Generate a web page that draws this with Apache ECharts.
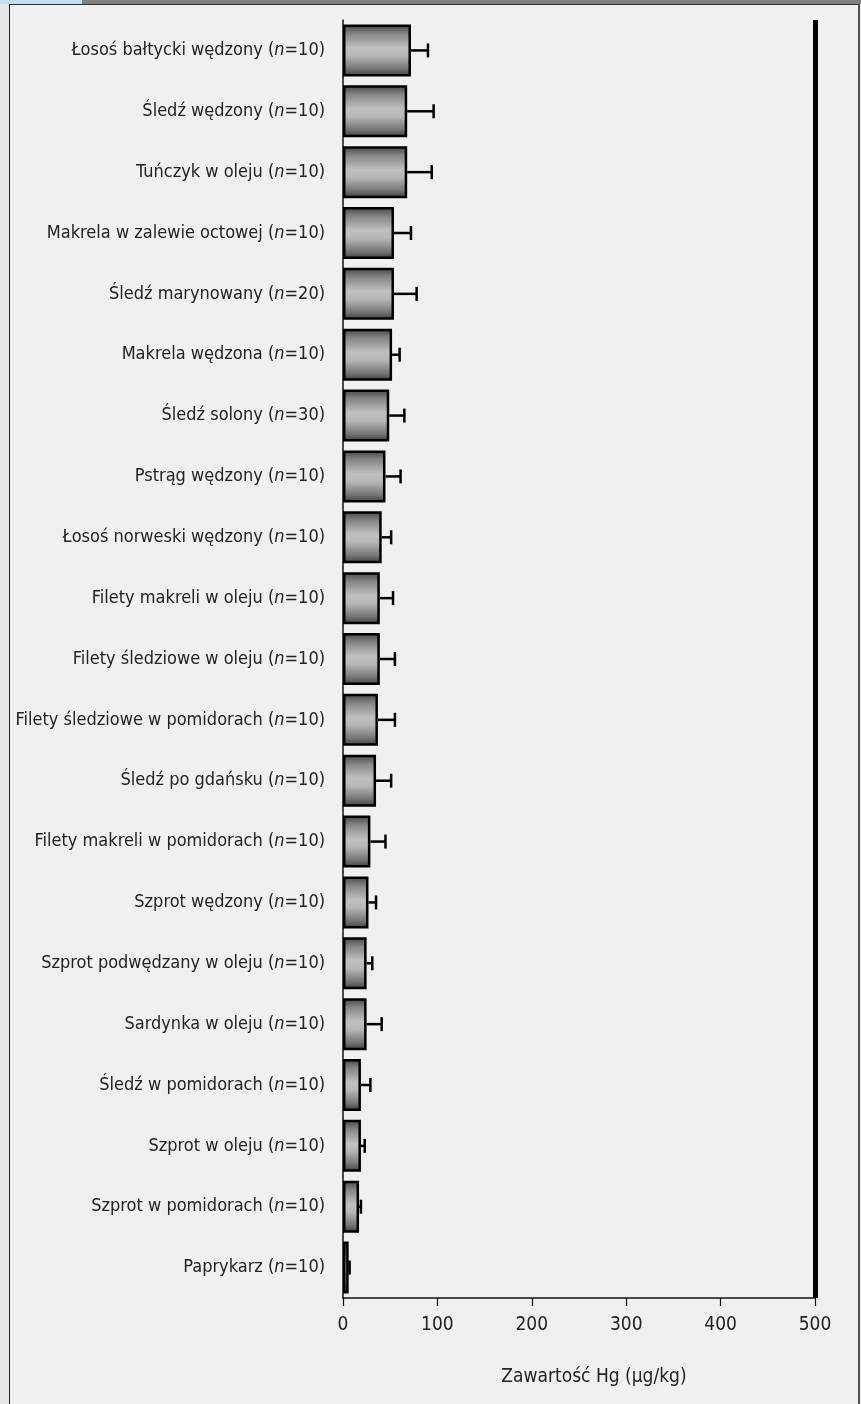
<!DOCTYPE html>
<html>
<head>
    <meta charset="utf-8">
    <script src="https://cdn.jsdelivr.net/npm/echarts@6/dist/echarts.min.js"></script>
    <style>
        html, body { margin: 0; padding: 0; background: #e4e5e7; }
        #frame { position: absolute; left: 9px; top: 4px; width: 848px; height: 1400px;
                 background: #f0f0f0; border-left: 1px solid #222; border-top: 1px solid #333; border-right: 2px solid #555; }
        #topbar { position: absolute; left: 82px; top: 0; width: 779px; height: 4px; background: #808080; }
        #topblue { position: absolute; left: 0; top: 0; width: 82px; height: 4px; background: #bfe0f4; }
        #main { position: absolute; left: 0; top: 0; width: 861px; height: 1404px; }
    </style>
</head>
<body>
    <div id="frame"></div>
    <div id="topbar"></div>
    <div id="topblue"></div>
    <div id="main"></div>
    <script type="text/javascript">
        var myChart = echarts.init(document.getElementById('main'));

        // nazwy produktów i liczebność prób
        var categories = ['Łosoś bałtycki wędzony', 'Śledź wędzony', 'Tuńczyk w oleju', 'Makrela w zalewie octowej',
            'Śledź marynowany', 'Makrela wędzona', 'Śledź solony', 'Pstrąg wędzony', 'Łosoś norweski wędzony',
            'Filety makreli w oleju', 'Filety śledziowe w oleju', 'Filety śledziowe w pomidorach', 'Śledź po gdańsku',
            'Filety makreli w pomidorach', 'Szprot wędzony', 'Szprot podwędzany w oleju', 'Sardynka w oleju',
            'Śledź w pomidorach', 'Szprot w oleju', 'Szprot w pomidorach', 'Paprykarz']
        var counts = [10, 10, 10, 10, 20, 10, 30, 10, 10, 10, 10, 10, 10, 10, 10, 10, 10, 10, 10, 10, 10]
        // średnia zawartość Hg i odchylenie (µg/kg)
        var means = [72, 68, 68, 54, 54, 52, 49, 45, 41, 39, 39, 37, 35, 29, 27, 25, 25, 19, 19, 17, 6]
        var sds = [18, 28, 26, 18, 24, 8, 16, 16, 10, 14, 16, 18, 16, 16, 8, 6, 16, 10, 4, 2, 1]
        var xTicks = [0, 100, 200, 300, 400, 500]
        var limit = 500

        var font = "'Liberation Sans Narrow', 'DejaVu Sans Condensed', 'Roboto Condensed', sans-serif"

        var errData = means.map(function (m, i) { return [i, m, m + sds[i]] })

        var option = {
            animation: false,
            grid: { left: 343, right: 46, top: 20, bottom: 106, outerBoundsMode: 'none', containLabel: false },
            xAxis: {
                type: 'value',
                min: xTicks[0],
                max: xTicks[xTicks.length - 1],
                interval: 100,
                splitLine: { show: false },
                axisLine: { show: true, lineStyle: { color: '#111', width: 1.5 } },
                axisTick: { show: true, length: 8, lineStyle: { color: '#111', width: 1.2 } },
                axisLabel: { margin: 18, color: '#222', fontSize: 19, fontFamily: font },
                name: 'Zawartość Hg (μg/kg)',
                nameLocation: 'middle',
                nameGap: 70,
                nameTextStyle: { color: '#222', fontSize: 19, fontFamily: font, padding: [0, 0, 0, 30] }
            },
            yAxis: {
                type: 'category',
                inverse: true,
                data: categories,
                axisLine: { show: true, lineStyle: { color: '#111', width: 1.5 } },
                axisTick: { show: false },
                axisLabel: {
                    margin: 18,
                    formatter: function (v, i) {
                        return '{t|' + v + ' (}{i|n}{t|=' + counts[i] + ')}'
                    },
                    rich: {
                        t: { color: '#222', fontSize: 18, fontFamily: font },
                        i: { color: '#222', fontSize: 18, fontFamily: font, fontStyle: 'italic' }
                    }
                }
            },
            series: [
                {
                    type: 'bar',
                    data: means,
                    barWidth: 52,
                    itemStyle: {
                        borderColor: '#000',
                        borderWidth: 2.5,
                        color: new echarts.graphic.LinearGradient(0, 0, 0, 1, [
                            { offset: 0, color: '#444' },
                            { offset: 0.18, color: '#858687' },
                            { offset: 0.45, color: '#bfc0c2' },
                            { offset: 0.6, color: '#b6b7b9' },
                            { offset: 0.85, color: '#767676' },
                            { offset: 1, color: '#3c3c3c' }
                        ])
                    },
                    markLine: {
                        silent: true,
                        symbol: 'none',
                        label: { show: false },
                        lineStyle: { color: '#000', width: 5, type: 'solid' },
                        data: [{ xAxis: limit }]
                    },
                    z: 2
                },
                {
                    // słupki błędów (tylko w prawo)
                    type: 'custom',
                    data: errData,
                    renderItem: function (params, api) {
                        var p0 = api.coord([api.value(1), api.value(0)])
                        var p1 = api.coord([api.value(2), api.value(0)])
                        var h = 7
                        var st = { stroke: '#000', lineWidth: 2.5 }
                        return {
                            type: 'group',
                            children: [
                                { type: 'line', shape: { x1: p0[0], y1: p0[1], x2: p1[0], y2: p1[1] }, style: st },
                                { type: 'line', shape: { x1: p1[0], y1: p1[1] - h, x2: p1[0], y2: p1[1] + h }, style: st }
                            ]
                        }
                    },
                    z: 3
                }
            ]
        }
        myChart.setOption(option);
    </script>
</body>
</html>
